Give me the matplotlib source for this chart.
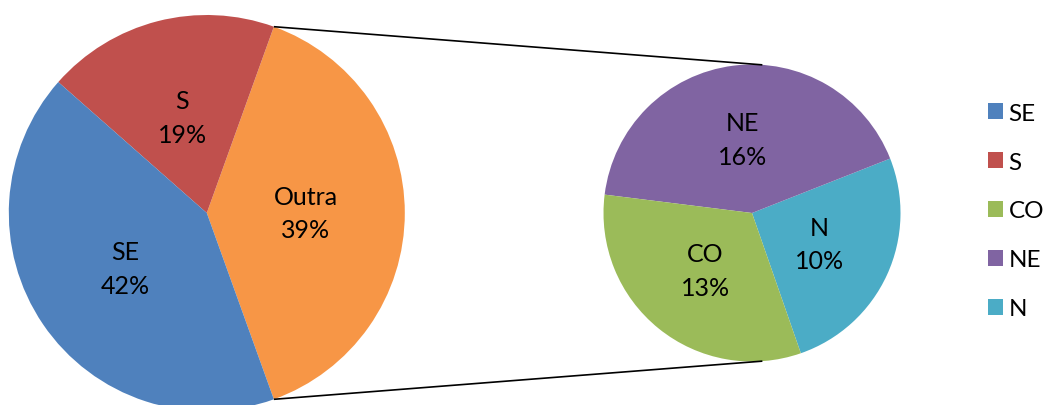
import numpy as np
from matplotlib import pyplot as plt

plt.rcParams['font.family'] = ['Lato', 'DejaVu Sans']

# main pie (Outra is broken out into the secondary pie)
main_names = ['Outra', 'S', 'SE']
main_values = [39.0, 19.0, 42.0]
main_colors = ['#F79646', '#C0504D', '#4F81BD']

# secondary pie
sub_names = ['N', 'NE', 'CO']
sub_values = [10.0, 16.4, 12.6]
sub_colors = ['#4BACC6', '#8064A2', '#9BBB59']

legend_order = ['SE', 'S', 'CO', 'NE', 'N']

total = sum(main_values)
W, H = 1043, 406

fig = plt.figure(figsize=(W / 100, H / 100), dpi=100)
ax = fig.add_axes([0, 0, 1, 1])

c1, r1 = (206.8, H - 214.0), 198.0
c2, r2 = (752.0, H - 214.0), 148.5

w1, _ = ax.pie(main_values, colors=main_colors, center=c1, radius=r1,
               startangle=-main_values[0] / total * 180, counterclock=True,
               wedgeprops=dict(linewidth=0))
w2, _ = ax.pie(sub_values, colors=sub_colors, center=c2, radius=r2,
               startangle=-70.8, counterclock=True,
               wedgeprops=dict(linewidth=0))


def put_labels(wedges, names, values, center, r):
    for w, name, v in zip(wedges, names, values):
        ang = np.deg2rad((w.theta1 + w.theta2) / 2)
        x = center[0] + 0.5 * r * np.cos(ang)
        y = center[1] + 0.5 * r * np.sin(ang)
        ax.text(x, y, f'{name}\n{round(v / total * 100):.0f}%', ha='center', va='center',
                fontsize=18, linespacing=1.57, color='black')


put_labels(w1, main_names, main_values, c1, r1)
put_labels(w2, sub_names, sub_values, c2, r2)

# connector lines from the Outra wedge to the secondary pie
t_top, t_bot = np.deg2rad(w1[0].theta2), np.deg2rad(w1[0].theta1)
a = np.deg2rad(86)
for t, s in [(t_top, 1), (t_bot, -1)]:
    ax.plot([c1[0] + r1 * np.cos(t), c2[0] + r2 * np.cos(a)],
            [c1[1] + r1 * np.sin(t), c2[1] + s * r2 * np.sin(a)],
            color='black', lw=1.2, solid_capstyle='butt')

handles = dict(zip(main_names + sub_names, list(w1) + list(w2)))
ax.legend([handles[n] for n in legend_order], legend_order,
          loc='center left', bbox_to_anchor=(988 / W, 1 - 212 / H),
          bbox_transform=fig.transFigure, frameon=False, fontsize=17.5,
          handlelength=0.62, handleheight=0.62, handletextpad=0.22,
          labelspacing=1.15, borderpad=0, borderaxespad=0)

ax.set_xlim(0, W)
ax.set_ylim(0, H)
ax.set_aspect('equal')
ax.axis('off')

fig.savefig('out.png', dpi=100)
plt.close()
